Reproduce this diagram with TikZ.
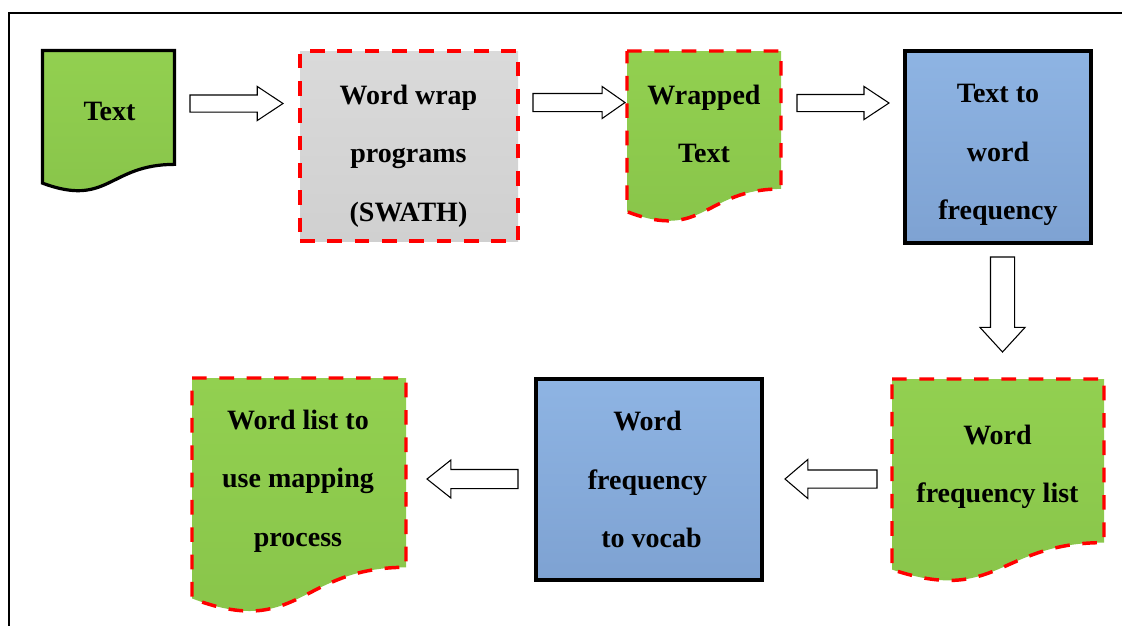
\documentclass[tikz,border=0pt]{standalone}
\usepackage{fontspec}
\setmainfont{Liberation Serif}
\usetikzlibrary{shapes.arrows}

\definecolor{leafgreen}{HTML}{92D050}
\definecolor{leafgreendk}{HTML}{88C44A}
\definecolor{skyblue}{HTML}{8EB4E3}
\definecolor{skybluedk}{HTML}{7EA2D2}
\definecolor{palegray}{HTML}{DADADA}
\definecolor{palegraydk}{HTML}{D0D0D0}

% document sheet with a wavy lower edge: x0, y0, x1, height, style
\newcommand\docsheet[5]{%
  \path[#5] (#1,#2) -- (#3,#2) -- (#3,{#2+0.802*#4})
    .. controls ({(#1+#3)/2},{#2+0.802*#4}) and ({(#1+#3)/2},{#2+1.1075*#4})
    .. (#1,{#2+0.934*#4}) -- cycle;}

\tikzset{
  labeltext/.style={font=\bfseries\fontsize{21pt}{43.9pt}\selectfont,
                    align=center, inner sep=0pt},
  redline/.style={draw=red, line width=2.6pt, dash pattern=on 11pt off 9.5pt},
  blackline/.style={draw=black, line width=2.4pt},
  greenfill/.style={top color=leafgreen, bottom color=leafgreendk},
  bluefill/.style={top color=skyblue, bottom color=skybluedk},
  grayfill/.style={top color=palegray, bottom color=palegraydk},
  procbox/.style={rectangle, inner sep=0pt, outer sep=0pt},
  % shaft width is twice the inner ysep of an empty node
  blockarrow/.style={single arrow, draw=black, fill=white, line width=0.8pt,
                     inner xsep=0pt, inner ysep=#1, outer sep=0pt, anchor=tail},
}

\begin{document}
\begin{tikzpicture}[x=0.75pt, y=-0.75pt]
\useasboundingbox (0,0) rectangle (1122,626);

% outer frame
\draw[line width=1.3pt] (1122,13) -- (9,13) -- (9,626);

% ---- top row ----
\docsheet{42.5}{50.5}{174.5}{142}{greenfill, blackline}
\node[labeltext, anchor=base] (txt) at (109.5,120.5) {Text};

\node[procbox, grayfill, redline, minimum width=163.5pt, minimum height=142.5pt]
  (wrapbox) at (409,146) {};
\node[labeltext, anchor=north] (wraptxt) at (408.5,84.5)
  {Word wrap\\programs\\(SWATH)};

\docsheet{627}{51}{781}{172}{greenfill, redline}
\node[labeltext, anchor=north] (wrapped) at (704,84.5) {Wrapped\\Text};

\node[procbox, bluefill, blackline, minimum width=139.5pt, minimum height=144pt]
  (freqbox) at (998,147) {};
\node[labeltext, anchor=north] (freqtxt) at (998,84)
  {Text to\\word\\frequency};

% ---- bottom row ----
\docsheet{892}{379}{1104}{204}{greenfill, redline}
\node[labeltext, anchor=north] (freqlist) at (997.5,424.5)
  {Word\\frequency list};

\node[procbox, bluefill, blackline, minimum width=169.5pt, minimum height=150.75pt]
  (vocabbox) at (649,479.5) {};
\node[labeltext, anchor=north] (vocabtxt) at (647.5,411.2)
  {Word\\frequency\\\hspace*{6pt}to vocab};

\docsheet{192}{378}{406}{236}{greenfill, redline}
\node[labeltext, anchor=north] (maplist) at (298,409.5)
  {Word list to\\use mapping\\process};

% ---- block arrows (placed by their tails) ----
\node[blockarrow=6pt, minimum height=69.75pt, minimum width=24.75pt,
      single arrow head extend=6.375pt, single arrow tip angle=67]
  (a1) at (190,103.5) {};
\node[blockarrow=6.375pt, minimum height=69pt, minimum width=23.25pt,
      single arrow head extend=5.25pt, single arrow tip angle=70]
  (a2) at (533,102.5) {};
\node[blockarrow=6pt, minimum height=69pt, minimum width=24pt,
      single arrow head extend=6pt, single arrow tip angle=67]
  (a3) at (797,103) {};
\node[blockarrow=8.625pt, minimum height=71.25pt, minimum width=33pt,
      single arrow head extend=7.875pt, single arrow tip angle=85, rotate=-90]
  (a4) at (1002.5,257) {};
\node[blockarrow=6.375pt, minimum height=69pt, minimum width=28.5pt,
      single arrow head extend=7.875pt, single arrow tip angle=81, rotate=180]
  (a5) at (877,479) {};
\node[blockarrow=6.75pt, minimum height=68.25pt, minimum width=27.75pt,
      single arrow head extend=7.125pt, single arrow tip angle=77, rotate=180]
  (a6) at (518,479) {};
\end{tikzpicture}
\end{document}
